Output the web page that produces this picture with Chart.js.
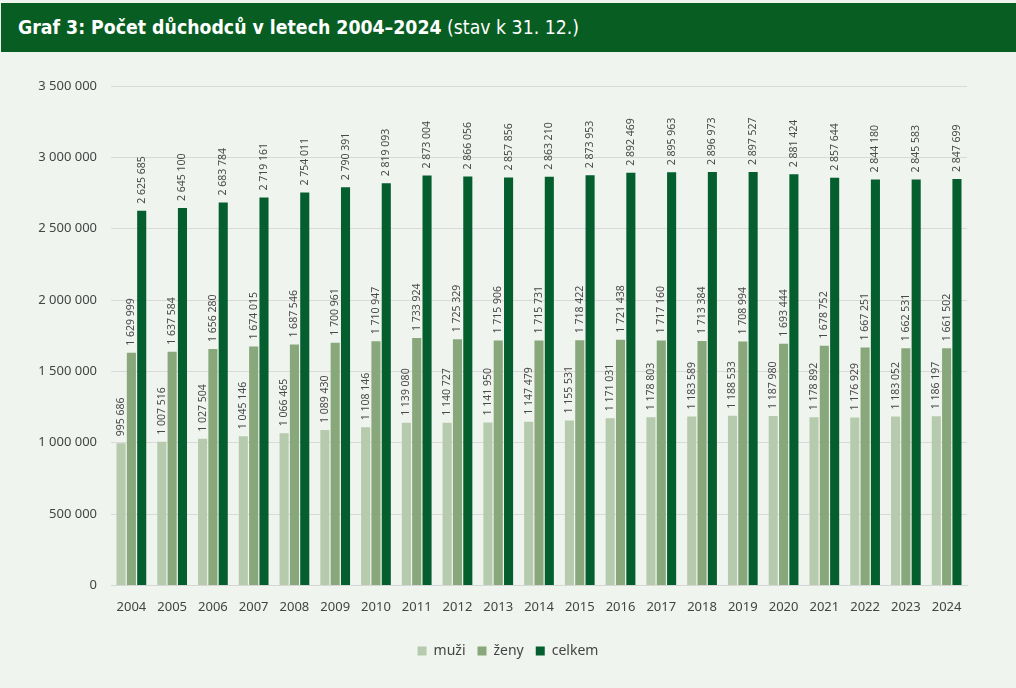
<!DOCTYPE html>
<html lang="cs">
<head>
<meta charset="utf-8">
<script src="https://cdn.jsdelivr.net/npm/chart.js@4"></script>
<style>
  html, body { margin: 0; padding: 0; background: #eff4ee; }
  #head {
    position: absolute; left: 1px; top: 3px; width: 1015px; height: 49px;
    background: #085e22; color: #fff;
    font-family: "Liberation Sans Narrow", "DejaVu Sans Condensed", sans-serif;
    font-size: 19.3px; line-height: 49px; box-sizing: border-box; padding-left: 17px;
  }
  #head b { font-weight: bold; }
  #wrap { position: absolute; left: 0; top: 52px; width: 1016px; height: 636px; }
</style>
</head>
<body>
<div id="head"><b>Graf 3: Počet důchodců v letech 2004–2024</b> (stav k 31. 12.)</div>
<div id="wrap"><canvas id="graf" width="1016" height="636"></canvas></div>
<script>
const years = ["2004","2005","2006","2007","2008","2009","2010","2011","2012","2013","2014",
               "2015","2016","2017","2018","2019","2020","2021","2022","2023","2024"];
const muzi = [995686, 1007516, 1027504, 1045146, 1066465, 1089430, 1108146, 1139080, 1140727, 1141950, 1147479,
              1155531, 1171031, 1178803, 1183589, 1188533, 1187980, 1178892, 1176929, 1183052, 1186197];
const zeny = [1629999, 1637584, 1656280, 1674015, 1687546, 1700961, 1710947, 1733924, 1725329, 1715906, 1715731,
              1718422, 1721438, 1717160, 1713384, 1708994, 1693444, 1678752, 1667251, 1662531, 1661502];
const celkem = [2625685, 2645100, 2683784, 2719161, 2754011, 2790391, 2819093, 2873004, 2866056, 2857856, 2863210,
                2873953, 2892469, 2895963, 2896973, 2897527, 2881424, 2857644, 2844180, 2845583, 2847699];

const fmt = v => String(v).replace(/\B(?=(\d{3})+(?!\d))/g, " ");
const FONT = "'Noto Sans', sans-serif";

// popisky hodnot nad sloupci (otočené o 90°)
const valueLabels = {
    id: "valueLabels",
    afterDatasetsDraw(chart) {
        const ctx = chart.ctx;
        ctx.save();
        ctx.font = "10.5px " + FONT;
        ctx.fillStyle = "#4a4a4a";
        ctx.textAlign = "left";
        ctx.textBaseline = "middle";
        chart.data.datasets.forEach((ds, i) => {
            chart.getDatasetMeta(i).data.forEach((bar, j) => {
                ctx.save();
                ctx.translate(bar.x, bar.y - 7);
                ctx.rotate(-Math.PI / 2);
                ctx.fillText(fmt(ds.data[j]), 0, 0);
                ctx.restore();
            });
        });
        ctx.restore();
    }
};

new Chart(document.getElementById("graf"), {
    type: "bar",
    data: {
        labels: years,
        datasets: [
            { label: "muži", data: muzi, backgroundColor: "#b6cbad" },
            { label: "ženy", data: zeny, backgroundColor: "#88a77a" },
            { label: "celkem", data: celkem, backgroundColor: "#055e2e" }
        ]
    },
    options: {
        responsive: false,
        animation: false,
        categoryPercentage: 0.76,
        barPercentage: 0.88,
        layout: { padding: { left: 0, right: 0, top: 34, bottom: 20 } },
        scales: {
            x: {
                afterFit: s => { s.height += 11; },
                grid: { display: false },
                border: { color: "#d6d6d6" },
                ticks: { color: "#444", font: { family: FONT, size: 13 }, padding: 6 }
            },
            y: {
                min: 0, max: 3500000,
                afterFit: s => { s.width = 111; },
                grid: { color: "#d9d9d9", drawTicks: false },
                border: { display: false },
                ticks: {
                    stepSize: 500000, padding: 14, color: "#444",
                    font: { family: FONT, size: 13 },
                    callback: v => fmt(v)
                }
            },
            // prázdný pravý okraj
            yr: {
                position: "right",
                min: 0, max: 3500000,
                afterFit: s => { s.width = 49; },
                grid: { display: false },
                border: { display: false },
                ticks: { display: false }
            }
        },
        plugins: {
            legend: {
                position: "bottom",
                labels: {
                    boxWidth: 9, boxHeight: 9, padding: 12,
                    color: "#444", font: { family: FONT, size: 14 }
                }
            },
            tooltip: { enabled: false }
        }
    },
    plugins: [valueLabels]
});
</script>
</body>
</html>
